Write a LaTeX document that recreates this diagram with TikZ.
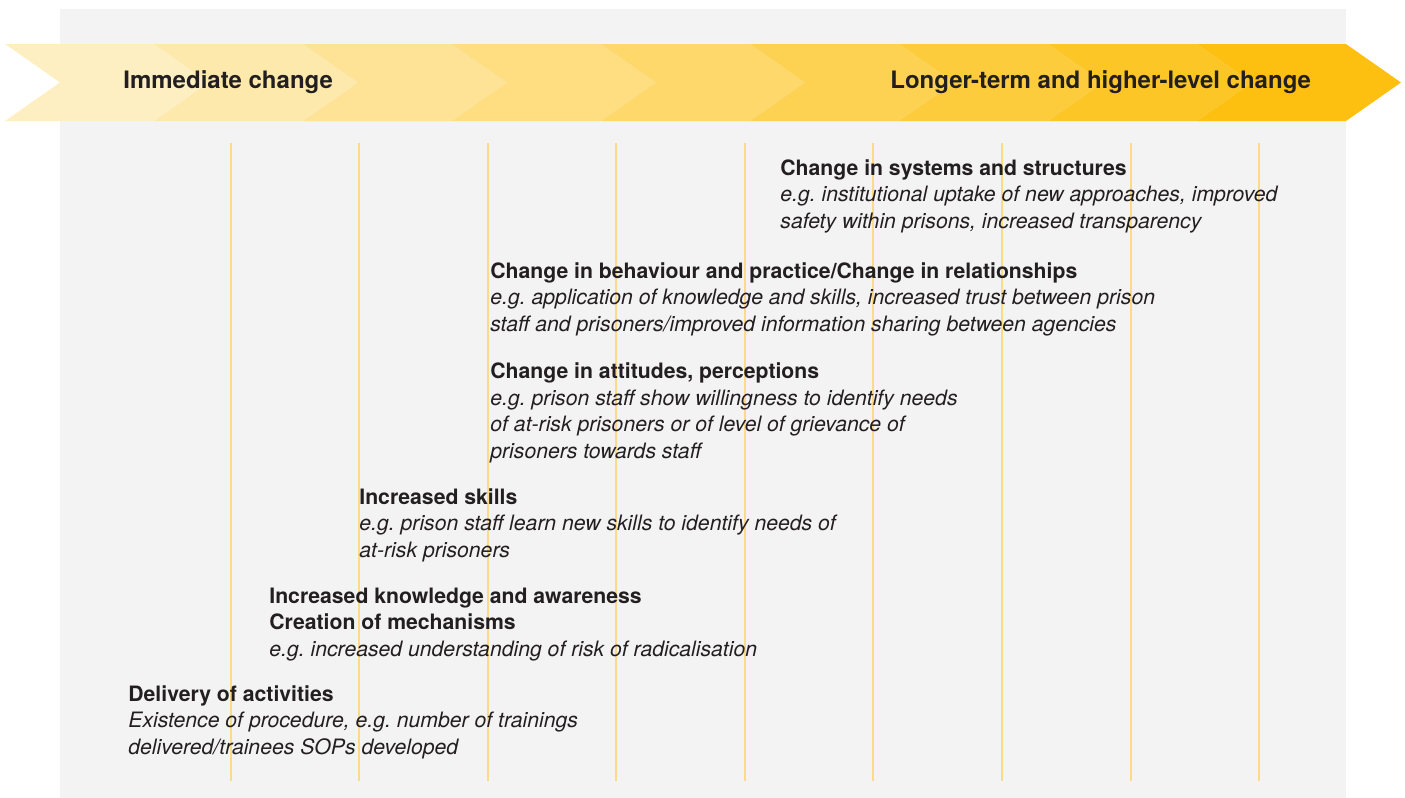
\documentclass[tikz,border=0pt]{standalone}
\usepackage{fontspec}
\usepackage{xcolor}
\usepackage{tikz}
\setmainfont{TeX Gyre Heros}
\frenchspacing
\definecolor{ink}{HTML}{231F20}
\definecolor{bggray}{HTML}{F3F3F3}
\definecolor{amber}{HTML}{FDC010}
\definecolor{gridline}{HTML}{FDD98A}

\begin{document}
\begin{tikzpicture}[x=0.5pt,y=-0.5pt,
    banner/.style={anchor=base west,inner sep=0pt,text=ink,font=\fontsize{12}{14}\selectfont\bfseries},
    stage/.style={anchor=base west,inner sep=0pt,align=left,text=ink,font=\fontsize{10.6}{13.25}\selectfont}]
    \useasboundingbox (0,0) rectangle (1405,798);
    % Background
    \fill[bggray] (60,9) rectangle (1346,798);

    % Chevron band
    \foreach \i in {0,...,8}{
        \pgfmathsetmacro{\xa}{5+149*\i}
        \pgfmathsetmacro{\xb}{\xa+149}
        \pgfmathsetmacro{\shade}{25+75*\i/8}
        \fill[amber!\shade!white] (\xa,44) -- (\xb,44) -- (\xb+55,82.5) -- (\xb,121) -- (\xa,121) -- (\xa+55,82.5) -- cycle;
    }

    % Guide lines
    \foreach \gx in {231,359,488,616,745,873,1002,1131,1259}
        \draw[gridline,line width=0.6pt] (\gx,143) -- (\gx,781);

    \node[banner] (immediate) at (123,88) {Immediate change};
    \node[banner] (longterm) at (890,88) {Longer-term and higher-level change};

    % Stages (placed at the baseline of their last line)
    \node[stage] (systems) at (780,228) {\textbf{Change in systems and structures}\\\textit{e.g. institutional uptake of new approaches, improved}\\\textit{safety within prisons, increased transparency}};
    \node[stage] (behaviour) at (490,331) {\textbf{Change in behaviour and practice/Change in relationships}\\\textit{e.g. application of knowledge and skills, increased trust between prison}\\\textit{staff and prisoners/improved information sharing between agencies}};
    \node[stage] (attitudes) at (490,458) {\textbf{Change in attitudes, perceptions}\\\textit{e.g. prison staff show willingness to identify needs}\\\textit{of at-risk prisoners or of level of grievance of}\\\textit{prisoners towards staff}};
    \node[stage] (skills) at (359,557) {\textbf{Increased skills}\\\textit{e.g. prison staff learn new skills to identify needs of}\\\textit{at-risk prisoners}};
    \node[stage] (knowledge) at (269,656) {\textbf{Increased knowledge and awareness}\\\textbf{Creation of mechanisms}\\\textit{e.g. increased understanding of risk of radicalisation}};
    \node[stage] (delivery) at (128,754) {\textbf{Delivery of activities}\\\textit{Existence of procedure, e.g. number of trainings}\\\textit{delivered/trainees SOPs developed}};
\end{tikzpicture}
\end{document}
